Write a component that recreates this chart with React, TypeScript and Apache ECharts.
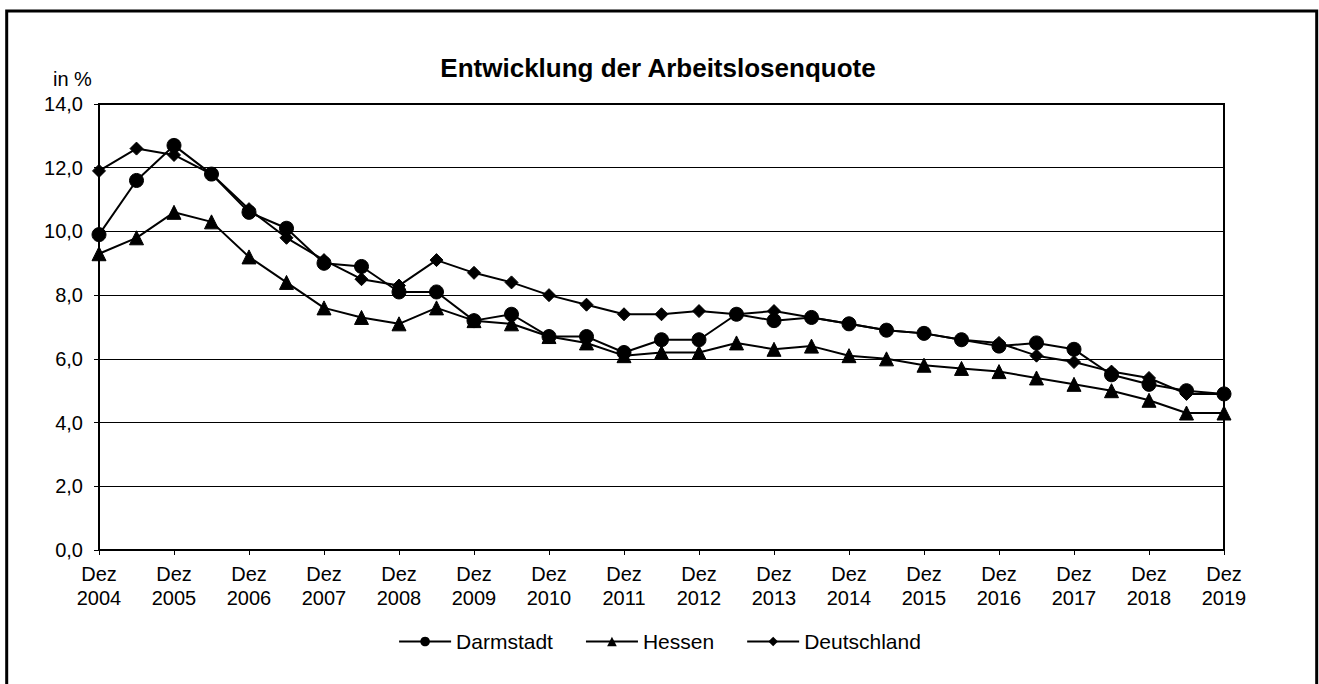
import React, { useEffect, useRef } from "react";
import * as echarts from "echarts";

const categories = [
  "Dez 2004", "Jun 2005", "Dez 2005", "Jun 2006", "Dez 2006", "Jun 2007", "Dez 2007", "Jun 2008",
  "Dez 2008", "Jun 2009", "Dez 2009", "Jun 2010", "Dez 2010", "Jun 2011", "Dez 2011", "Jun 2012",
  "Dez 2012", "Jun 2013", "Dez 2013", "Jun 2014", "Dez 2014", "Jun 2015", "Dez 2015", "Jun 2016",
  "Dez 2016", "Jun 2017", "Dez 2017", "Jun 2018", "Dez 2018", "Jun 2019", "Dez 2019",
];

const darmstadt = [9.9, 11.6, 12.7, 11.8, 10.6, 10.1, 9.0, 8.9, 8.1, 8.1, 7.2, 7.4, 6.7, 6.7, 6.2, 6.6, 6.6, 7.4, 7.2, 7.3, 7.1, 6.9, 6.8, 6.6, 6.4, 6.5, 6.3, 5.5, 5.2, 5.0, 4.9];
const hessen = [9.3, 9.8, 10.6, 10.3, 9.2, 8.4, 7.6, 7.3, 7.1, 7.6, 7.2, 7.1, 6.7, 6.5, 6.1, 6.2, 6.2, 6.5, 6.3, 6.4, 6.1, 6.0, 5.8, 5.7, 5.6, 5.4, 5.2, 5.0, 4.7, 4.3, 4.3];
const deutschland = [11.9, 12.6, 12.4, 11.8, 10.7, 9.8, 9.1, 8.5, 8.3, 9.1, 8.7, 8.4, 8.0, 7.7, 7.4, 7.4, 7.5, 7.4, 7.5, 7.3, 7.1, 6.9, 6.8, 6.6, 6.5, 6.1, 5.9, 5.6, 5.4, 4.9, 4.9];

const FONT = "'Liberation Sans', Arial, sans-serif";

export default function App() {
  const ref = useRef<HTMLDivElement>(null);
  useEffect(() => {
    if (!ref.current) return;
    const chart = echarts.init(ref.current, null, { renderer: "svg" });
    const lineSeries = (name: string, data: number[], symbol: string, size: number, z: number) => ({
      name,
      type: "line",
      data,
      symbol,
      symbolSize: size,
      z,
      lineStyle: { color: "#000", width: 2 },
      itemStyle: { color: "#000", borderColor: "#000" },
      emphasis: { disabled: true },
    });
    chart.setOption({
      animation: false,
      backgroundColor: "#fff",
      textStyle: { fontFamily: FONT },
      title: {
        text: "Entwicklung der Arbeitslosenquote",
        left: 653,
        textAlign: "center",
        top: 50,
        textStyle: { fontFamily: FONT, fontSize: 26, fontWeight: "bold", color: "#000" },
      },
      graphic: [
        {
          type: "rect",
          shape: { x: 6.7, y: 11, width: 1310, height: 720 },
          style: { fill: "none", stroke: "#000", lineWidth: 3 },
          silent: true,
        },
        {
          type: "text",
          x: 53,
          y: 79,
          style: { text: "in %", fontFamily: FONT, fontSize: 20, fill: "#000", verticalAlign: "middle" },
        },
      ],
      grid: {
        left: 99,
        right: 95,
        top: 104,
        bottom: 134,
        show: true,
        borderColor: "#000",
        borderWidth: 2,
        backgroundColor: "transparent",
      },
      legend: {
        data: ["Darmstadt", "Hessen", "Deutschland"],
        left: "center",
        top: 626,
        itemWidth: 52,
        itemHeight: 12,
        itemGap: 32,
        textStyle: { fontFamily: FONT, fontSize: 21, color: "#000" },
      },
      xAxis: {
        type: "category",
        data: categories,
        boundaryGap: false,
        axisLine: { lineStyle: { color: "#000", width: 2 } },
        axisTick: { show: true, interval: 1, length: 5, lineStyle: { color: "#000", width: 1 } },
        axisLabel: {
          interval: 1,
          margin: 12,
          fontFamily: FONT,
          fontSize: 20,
          lineHeight: 24,
          color: "#000",
          formatter: (v: string) => v.replace(" ", "\n"),
        },
        splitLine: { show: false },
      },
      yAxis: {
        type: "value",
        min: 0,
        max: 14,
        interval: 2,
        axisLine: { show: true, lineStyle: { color: "#000", width: 2 } },
        axisTick: { show: true, length: 5, lineStyle: { color: "#000", width: 1 } },
        axisLabel: {
          margin: 16,
          fontFamily: FONT,
          fontSize: 20,
          color: "#000",
          formatter: (v: number) => v.toFixed(1).replace(".", ","),
        },
        splitLine: { show: true, lineStyle: { color: "#000", width: 1 } },
      },
      series: [
        lineSeries("Darmstadt", darmstadt, "circle", 14, 5),
        lineSeries("Hessen", hessen, "triangle", 14, 3),
        lineSeries("Deutschland", deutschland, "diamond", 13, 4),
      ],
    });
    return () => chart.dispose();
  }, []);
  return (
    <div
      ref={ref}
      style={{ position: "fixed", left: 0, top: 0, width: 1319, height: 684, background: "#fff" }}
    />
  );
}
